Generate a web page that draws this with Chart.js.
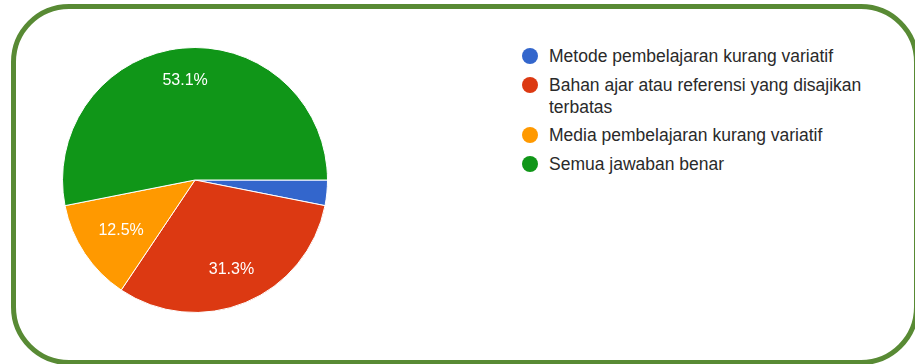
<!DOCTYPE html>
<html>
<head>
<meta charset="utf-8">
<script src="https://cdn.jsdelivr.net/npm/chart.js@4.4.0/dist/chart.umd.min.js"></script>
<style>
    html, body {
        margin: 0;
        padding: 0;
        width: 915px;
        height: 364px;
        overflow: hidden;
        background: #fff;
        font-family: Arial, "Liberation Sans", sans-serif;
    }
    .frame {
        position: absolute;
        left: 11px;
        top: 4px;
        width: 908px;
        height: 361px;
        box-sizing: border-box;
        border: 5px solid #588a34;
        border-radius: 58px;
    }
    .pie-box {
        position: absolute;
        left: 62px;
        top: 47px;
        width: 266px;
        height: 266px;
    }
    #legend {
        position: absolute;
        left: 522px;
        top: 45px;
        width: 375px;
        margin: 0;
        padding: 0;
        list-style: none;
        font-size: 17.5px;
        color: #2a2a2a;
    }
    #legend li {
        position: relative;
        padding-left: 27px;
        line-height: 22px;
        margin-bottom: 6.5px;
    }
    #legend li span {
        position: absolute;
        left: 0;
        top: 3px;
        width: 16px;
        height: 16px;
        border-radius: 50%;
    }
</style>
</head>
<body>
<div class="frame"></div>
<div class="pie-box"><canvas id="pieChart"></canvas></div>
<ul id="legend"></ul>

<script>
const categories = [
    'Metode pembelajaran kurang variatif',
    'Bahan ajar atau referensi yang disajikan terbatas',
    'Media pembelajaran kurang variatif',
    'Semua jawaban benar'
];
const percentages = [3.1, 31.3, 12.5, 53.1];
const sliceColors = ['#3366cc', '#dc3912', '#ff9900', '#109618'];

// percentage text inside each slice (small slices are left blank)
const sliceLabels = {
    id: 'sliceLabels',
    afterDatasetsDraw(chart) {
        const ctx = chart.ctx;
        const meta = chart.getDatasetMeta(0);
        const data = chart.data.datasets[0].data;
        const total = data.reduce((a, b) => a + b, 0);
        const depth = [0.7, 0.72, 0.67, 0.765];
        ctx.save();
        ctx.fillStyle = '#fff';
        ctx.font = '16px Arial, "Liberation Sans", sans-serif';
        ctx.textAlign = 'center';
        ctx.textBaseline = 'middle';
        meta.data.forEach((arc, i) => {
            const share = data[i] / total * 100;
            if (share < 5) return;
            const p = arc.getProps(['x', 'y', 'startAngle', 'endAngle', 'outerRadius'], true);
            const mid = (p.startAngle + p.endAngle) / 2;
            const r = p.outerRadius * depth[i];
            ctx.fillText(data[i].toFixed(1) + '%', p.x + Math.cos(mid) * r, p.y + 1 + Math.sin(mid) * r);
        });
        ctx.restore();
    }
};

const chart = new Chart(document.getElementById('pieChart').getContext('2d'), {
    type: 'pie',
    data: {
        labels: categories,
        datasets: [{
            data: percentages,
            backgroundColor: sliceColors,
            borderColor: '#fff',
            borderWidth: 1
        }]
    },
    options: {
        responsive: true,
        maintainAspectRatio: false,
        animation: false,
        rotation: 90,
        layout: { padding: 0 },
        plugins: {
            legend: { display: false },
            tooltip: { enabled: false }
        }
    },
    plugins: [sliceLabels]
});

// legend list built from the chart data
const legendEl = document.getElementById('legend');
chart.data.labels.forEach((label, i) => {
    const li = document.createElement('li');
    const dot = document.createElement('span');
    dot.style.background = sliceColors[i];
    li.appendChild(dot);
    li.appendChild(document.createTextNode(label));
    legendEl.appendChild(li);
});
</script>
</body>
</html>
